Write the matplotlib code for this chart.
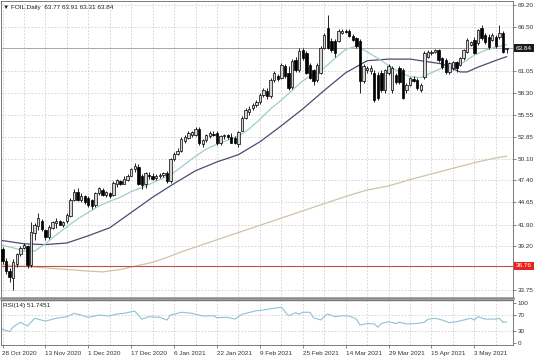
import matplotlib
matplotlib.use("Agg")
import matplotlib.pyplot as plt
import matplotlib.transforms as mtransforms

plt.rcParams['font.family'] = ['Liberation Sans', 'DejaVu Sans']

# ---------------- data ----------------
opens = [38.8, 37.3, 36.1, 35.3, 37.0, 38.2, 39.0, 39.2, 36.9, 40.8,
         41.7, 42.4, 41.2, 40.3, 41.5, 42.1, 42.3, 41.9, 42.3, 43.0,
         45.0, 46.0, 45.0, 45.4, 45.2, 44.9, 44.3, 45.8, 46.2, 45.6,
         45.8, 45.6, 46.9, 47.3, 47.0, 47.5, 48.0, 48.8, 49.1, 47.9,
         46.9, 48.1, 48.0, 47.7, 47.9, 48.1, 48.3, 47.3, 50.0, 50.7,
         51.1, 52.3, 52.7, 53.1, 53.1, 53.8, 51.9, 52.4, 52.9, 53.2,
         53.3, 52.0, 52.9, 53.0, 52.8, 52.7, 51.9, 53.6, 55.2, 55.9,
         56.4, 56.8, 57.1, 58.0, 58.5, 57.9, 59.9, 60.4, 60.2, 61.6,
         60.8, 59.0, 62.4, 61.1, 63.6, 63.3, 61.8, 61.1, 59.9, 60.8,
         63.9, 66.4, 64.8, 64.8, 64.8, 65.8, 66.0, 66.0, 65.4, 65.1,
         64.8, 59.8, 61.1, 61.0, 60.8, 60.5, 60.8, 58.6, 60.8, 58.6,
         60.5, 61.4, 61.1, 58.6, 59.3, 60.0, 59.9, 58.6, 60.3, 62.8,
         63.3, 63.4, 63.6, 62.6, 62.4, 60.9, 61.4, 62.1, 61.8, 62.6,
         63.4, 64.3, 64.9, 64.5, 66.4, 65.5, 65.2, 64.9, 65.3, 65.2,
         65.8, 63.77]
highs = [39.1, 37.7, 36.5, 37.6, 38.4, 39.2, 39.6, 39.3, 42.2, 42.1,
         43.3, 42.6, 41.4, 41.9, 42.4, 42.7, 42.5, 42.4, 43.3, 45.2,
         46.3, 46.4, 45.8, 45.6, 45.4, 45.1, 46.0, 46.6, 46.5, 46.1,
         46.0, 47.3, 47.6, 47.5, 47.9, 48.2, 49.0, 49.5, 49.4, 48.2,
         48.5, 48.5, 48.3, 48.2, 48.3, 48.5, 48.6, 50.2, 50.9, 51.4,
         52.8, 53.0, 53.5, 53.6, 54.0, 54.1, 52.6, 53.2, 53.5, 53.6,
         53.5, 53.1, 53.2, 53.2, 53.3, 52.9, 53.6, 55.4, 56.4, 56.6,
         57.0, 57.4, 58.3, 58.9, 58.9, 60.1, 61.0, 60.7, 62.0, 61.9,
         61.6, 62.5, 62.8, 63.9, 63.9, 63.5, 62.0, 61.3, 62.0, 64.1,
         65.7, 68.0, 65.1, 65.0, 66.2, 66.3, 66.3, 66.2, 65.6, 65.3,
         65.0, 61.9, 61.7, 61.8, 61.1, 60.9, 61.1, 61.3, 61.9, 61.6,
         60.8, 61.7, 61.4, 59.5, 60.3, 60.4, 60.2, 59.5, 63.5, 63.6,
         63.6, 63.8, 63.8, 62.8, 62.6, 62.2, 62.3, 62.3, 62.8, 63.8,
         65.1, 64.8, 65.2, 66.3, 66.7, 65.8, 65.6, 65.7, 65.5, 66.7,
         66.0, 63.91]
lows = [37.0, 35.8, 34.8, 33.7, 36.6, 38.0, 38.8, 36.5, 36.6, 40.0,
        41.2, 41.1, 40.0, 40.1, 41.3, 41.5, 41.8, 41.6, 42.1, 42.8,
        44.8, 44.8, 44.7, 44.5, 44.1, 43.8, 44.1, 45.6, 45.4, 45.3,
        45.2, 45.5, 46.6, 46.8, 46.9, 47.3, 47.9, 48.4, 46.8, 46.3,
        46.5, 47.6, 47.4, 47.4, 47.7, 47.8, 47.1, 47.1, 49.8, 50.5,
        50.9, 52.1, 52.5, 52.8, 52.9, 51.8, 51.6, 52.2, 52.7, 52.9,
        51.8, 51.8, 52.6, 52.5, 52.0, 51.9, 51.5, 53.5, 55.0, 55.6,
        56.2, 56.5, 56.9, 57.8, 57.5, 57.7, 59.7, 59.8, 60.0, 60.2,
        58.7, 58.8, 60.9, 60.9, 62.4, 60.6, 60.0, 59.3, 59.6, 60.6,
        63.7, 63.7, 63.4, 62.8, 64.6, 65.6, 65.7, 65.2, 64.7, 63.9,
        58.3, 59.5, 60.8, 60.7, 57.2, 57.4, 58.4, 58.3, 60.5, 58.3,
        59.4, 59.4, 57.5, 58.3, 59.1, 59.6, 58.7, 58.4, 60.0, 62.6,
        63.0, 63.2, 62.2, 61.3, 60.7, 60.7, 61.2, 60.9, 61.6, 62.4,
        63.2, 64.1, 63.1, 64.3, 64.9, 64.4, 63.8, 64.7, 63.9, 65.0,
        63.2, 63.31]
closes = [37.3, 36.1, 35.4, 37.2, 38.2, 39.0, 39.3, 36.8, 41.0, 41.8,
          42.7, 41.3, 40.3, 41.6, 42.2, 42.4, 41.9, 42.2, 43.1, 45.0,
          46.0, 45.0, 45.5, 44.7, 44.3, 44.2, 45.8, 46.4, 45.6, 45.9,
          45.4, 47.1, 47.4, 46.9, 47.6, 48.0, 48.8, 49.2, 47.0, 46.8,
          48.3, 47.9, 47.6, 48.0, 48.1, 48.3, 47.3, 50.0, 50.7, 51.1,
          52.6, 52.8, 53.3, 53.4, 53.8, 52.0, 52.4, 53.0, 53.3, 53.1,
          52.0, 52.9, 53.1, 52.8, 52.1, 52.0, 53.4, 55.2, 56.2, 56.3,
          56.8, 57.1, 58.0, 58.7, 57.9, 59.9, 60.8, 60.0, 61.8, 60.4,
          58.9, 62.3, 61.1, 63.5, 62.6, 60.8, 60.2, 59.8, 61.8, 63.9,
          65.5, 63.9, 63.6, 63.3, 66.0, 66.0, 65.9, 65.4, 64.9, 64.1,
          59.8, 61.6, 61.4, 61.4, 57.4, 57.7, 58.6, 61.1, 61.6, 61.4,
          59.6, 59.6, 57.7, 59.3, 60.1, 59.8, 58.9, 59.3, 63.3, 63.4,
          63.4, 63.6, 62.4, 61.5, 60.9, 62.0, 62.1, 61.4, 62.6, 63.6,
          64.9, 64.6, 63.3, 66.1, 65.1, 64.6, 64.0, 65.5, 64.1, 65.7,
          63.4, 63.84]

# moving averages read at sampled bars
ma_fast_bar = [0, 3, 6, 9, 12, 15, 18, 21, 24, 27, 30, 33, 36, 39, 42, 45, 48,
               51, 54, 57, 60, 63, 66, 69, 72, 75, 78, 81, 84, 87, 90, 93, 96,
               99, 102, 105, 108, 111, 114, 117, 120, 123, 126, 129, 132, 135,
               138, 141]
ma_fast_val = [39.3, 39.0, 38.6, 38.6, 39.5, 40.6, 41.6, 42.6, 43.4, 44.2,
               44.8, 45.3, 46.0, 46.5, 47.1, 47.7, 48.4, 49.4, 50.4, 51.3,
               51.9, 52.4, 52.9, 53.8, 55.0, 56.3, 57.4, 58.6, 59.8, 60.6,
               61.4, 62.6, 63.7, 64.1, 63.4, 62.6, 61.7, 60.9, 60.3, 60.2,
               60.8, 61.4, 61.6, 62.1, 63.0, 63.6, 64.0, 64.3]
ma_slow_bar = [0, 6, 12, 18, 24, 30, 36, 42, 48, 54, 60, 66, 72, 78, 84, 90,
               96, 102, 108, 114, 120, 123, 126, 128, 130, 133, 136, 139, 141]
ma_slow_val = [39.9, 39.5, 39.4, 39.6, 40.5, 41.5, 43.4, 45.3, 47.0, 48.6,
               49.7, 50.6, 52.2, 54.2, 56.3, 58.6, 60.8, 62.3, 62.5, 62.5,
               62.1, 61.9, 61.3, 60.9, 60.9, 61.5, 62.0, 62.5, 62.8]
ma_long_bar = [0, 6, 12, 18, 24, 28, 33, 37, 42, 46, 50, 54, 60, 66, 72, 78,
               84, 90, 96, 102, 108, 114, 120, 126, 132, 138, 141]
ma_long_val = [36.9, 36.7, 36.5, 36.3, 36.1, 36.0, 36.3, 36.7, 37.2, 37.8,
               38.5, 39.1, 40.0, 40.9, 41.8, 42.7, 43.6, 44.5, 45.4, 46.2,
               46.7, 47.5, 48.2, 48.9, 49.6, 50.2, 50.4]

rsi_bar = [0, 2, 3, 5, 7, 9, 12, 15, 18, 20, 22, 24, 27, 30, 32, 34, 37, 39,
           41, 44, 46, 47, 50, 53, 56, 59, 60, 63, 65, 67, 71, 73, 75, 76, 78,
           80, 82, 83, 84, 86, 87, 89, 90, 91, 93, 95, 97, 99, 100, 102, 104,
           105, 106, 108, 110, 111, 113, 116, 118, 119, 121, 123, 125, 127,
           129, 131, 132, 133, 135, 138, 139, 140, 141]
rsi_val = [33.5, 27.6, 40.0, 51.0, 41.8, 61.0, 54.0, 61.0, 65.0, 73.5, 69.0,
           63.5, 69.0, 66.7, 71.7, 73.5, 79.0, 59.0, 65.0, 63.5, 56.7, 69.0,
           76.0, 73.5, 66.7, 67.5, 62.5, 63.5, 59.0, 71.0, 80.0, 81.7, 85.0,
           86.0, 88.5, 67.5, 75.0, 71.0, 76.0, 76.0, 62.5, 56.7, 65.0, 71.7,
           65.0, 67.5, 66.7, 59.0, 44.0, 48.0, 47.0, 38.5, 48.0, 52.5, 48.0,
           51.0, 47.0, 48.0, 51.0, 58.5, 61.0, 56.7, 50.0, 52.5, 56.7, 61.0,
           56.7, 65.0, 59.0, 59.0, 61.0, 51.0, 51.7]

date_labels = ["28 Oct 2020", "13 Nov 2020", "1 Dec 2020", "17 Dec 2020",
               "6 Jan 2021", "22 Jan 2021", "9 Feb 2021", "25 Feb 2021",
               "14 Mar 2021", "29 Mar 2021", "15 Apr 2021", "3 May 2021"]
price_ticks = [69.20, 66.50, 61.05, 58.30, 55.55, 52.85, 50.10, 47.40,
               44.65, 41.90, 39.20, 33.75]
last_price = 63.84
level_price = 36.76
header = "\u25BC FOIL,Daily  63.77 63.91 63.31 63.84"
rsi_label = "RSI(14) 51.7451"

# ---------------- layout ----------------
W, H = 536, 357
fig = plt.figure(figsize=(W / 100, H / 100), dpi=100)
fig.patch.set_facecolor("white")

def box(x0, y0, x1, y1):
    return [x0 / W, 1 - y1 / H, (x1 - x0) / W, (y1 - y0) / H]

ax = fig.add_axes(box(1, 1, 513, 298))
axr = fig.add_axes(box(1, 300, 513, 345))

px_per_bar = 3.575
x_first = 2.5
xl = ((1 - x_first) / px_per_bar, (513 - x_first) / px_per_bar)
for a in (ax, axr):
    a.set_xlim(*xl)
    a.set_facecolor("white")

ax.set_ylim(69.2 - (298 - 5.3) / 8.03, 69.2 - (1 - 5.3) / 8.03)
axr.set_ylim(-5.75, 106.75)

grid_kw = dict(color="#cfcfcf", lw=0.6, ls=(0, (2, 2)), zorder=0)
n = len(closes)
for b in range(0, 144, 6):
    ax.axvline(b, **grid_kw)
    axr.axvline(b, **grid_kw)
for p in price_ticks:
    ax.axhline(p, **grid_kw)
for r in (70, 30):
    axr.axhline(r, **grid_kw)

# moving averages
ax.plot(ma_long_bar, ma_long_val, color="#d2c3a5", lw=0.9, zorder=2)
ax.plot(ma_slow_bar, ma_slow_val, color="#4b4b73", lw=0.9, zorder=2)
ax.plot(ma_fast_bar, ma_fast_val, color="#9fcfc6", lw=0.9, zorder=2)

# level lines
ax.axhline(level_price, color="#c0504d", lw=0.8, zorder=2)
ax.axhline(last_price, color="#a8a8a8", lw=0.7, zorder=1)

# candles
xs = list(range(n))
ax.vlines(xs, lows, highs, color="black", lw=0.6, zorder=3)
for i in xs:
    o, c = opens[i], closes[i]
    bot = min(o, c)
    h = max(abs(c - o), 0.06)
    fc = "#d4d4d4" if c >= o else "black"
    ax.bar(i, h, bottom=bot, width=0.66, color=fc, edgecolor="black",
           linewidth=0.5, zorder=4)

# RSI
axr.plot(rsi_bar, rsi_val, color="#8cc3d6", lw=0.8, zorder=2)

# axes styling
fs = 4.6
for a in (ax, axr):
    for s in a.spines.values():
        s.set_color("#7a7a7a")
        s.set_linewidth(0.7)
ax.spines["bottom"].set_linewidth(1.8)
ax.spines["bottom"].set_color("#8a8a8a")
axr.spines["top"].set_linewidth(1.0)

ax.yaxis.tick_right()
ax.set_yticks(price_ticks)
ax.set_yticklabels([f"{p:.2f}" for p in price_ticks], fontsize=fs, color="#333333")
ax.tick_params(axis="y", length=2, width=0.5, pad=1.5, colors="#555555")
ax.set_xticks([])

axr.yaxis.tick_right()
axr.set_yticks([100, 70, 30, 0])
axr.set_yticklabels(["100", "70", "30", "0"], fontsize=fs, color="#333333")
axr.tick_params(axis="y", length=2, width=0.5, pad=1.5, colors="#555555")
axr.set_xticks([12 * k for k in range(len(date_labels))])
axr.set_xticklabels(date_labels, fontsize=fs, ha="left", color="#333333")
axr.tick_params(axis="x", length=2, width=0.5, pad=2, colors="#555555")
for lab in ax.get_yticklabels() + axr.get_yticklabels() + axr.get_xticklabels():
    lab.set_color("#333333")

# boxed price labels
trans = mtransforms.blended_transform_factory(ax.transAxes, ax.transData)
ax.text(1.006, last_price, f"{last_price:.2f}", transform=trans, fontsize=fs,
        color="white", va="center", ha="left", zorder=10, clip_on=False,
        bbox=dict(boxstyle="square,pad=0.25", fc="#1a1a1a", ec="none"))
ax.text(1.006, level_price, f"{level_price:.2f}", transform=trans, fontsize=fs,
        color="white", va="center", ha="left", zorder=10, clip_on=False,
        bbox=dict(boxstyle="square,pad=0.25", fc="#e8231f", ec="none"))

# header texts
ax.text(0.004, 0.985, header, transform=ax.transAxes, fontsize=fs,
        va="top", ha="left", color="#222222")
axr.text(0.003, 0.93, rsi_label, transform=axr.transAxes, fontsize=fs,
         va="top", ha="left", color="#222222")

fig.savefig("out.png", dpi=100, facecolor="white")
